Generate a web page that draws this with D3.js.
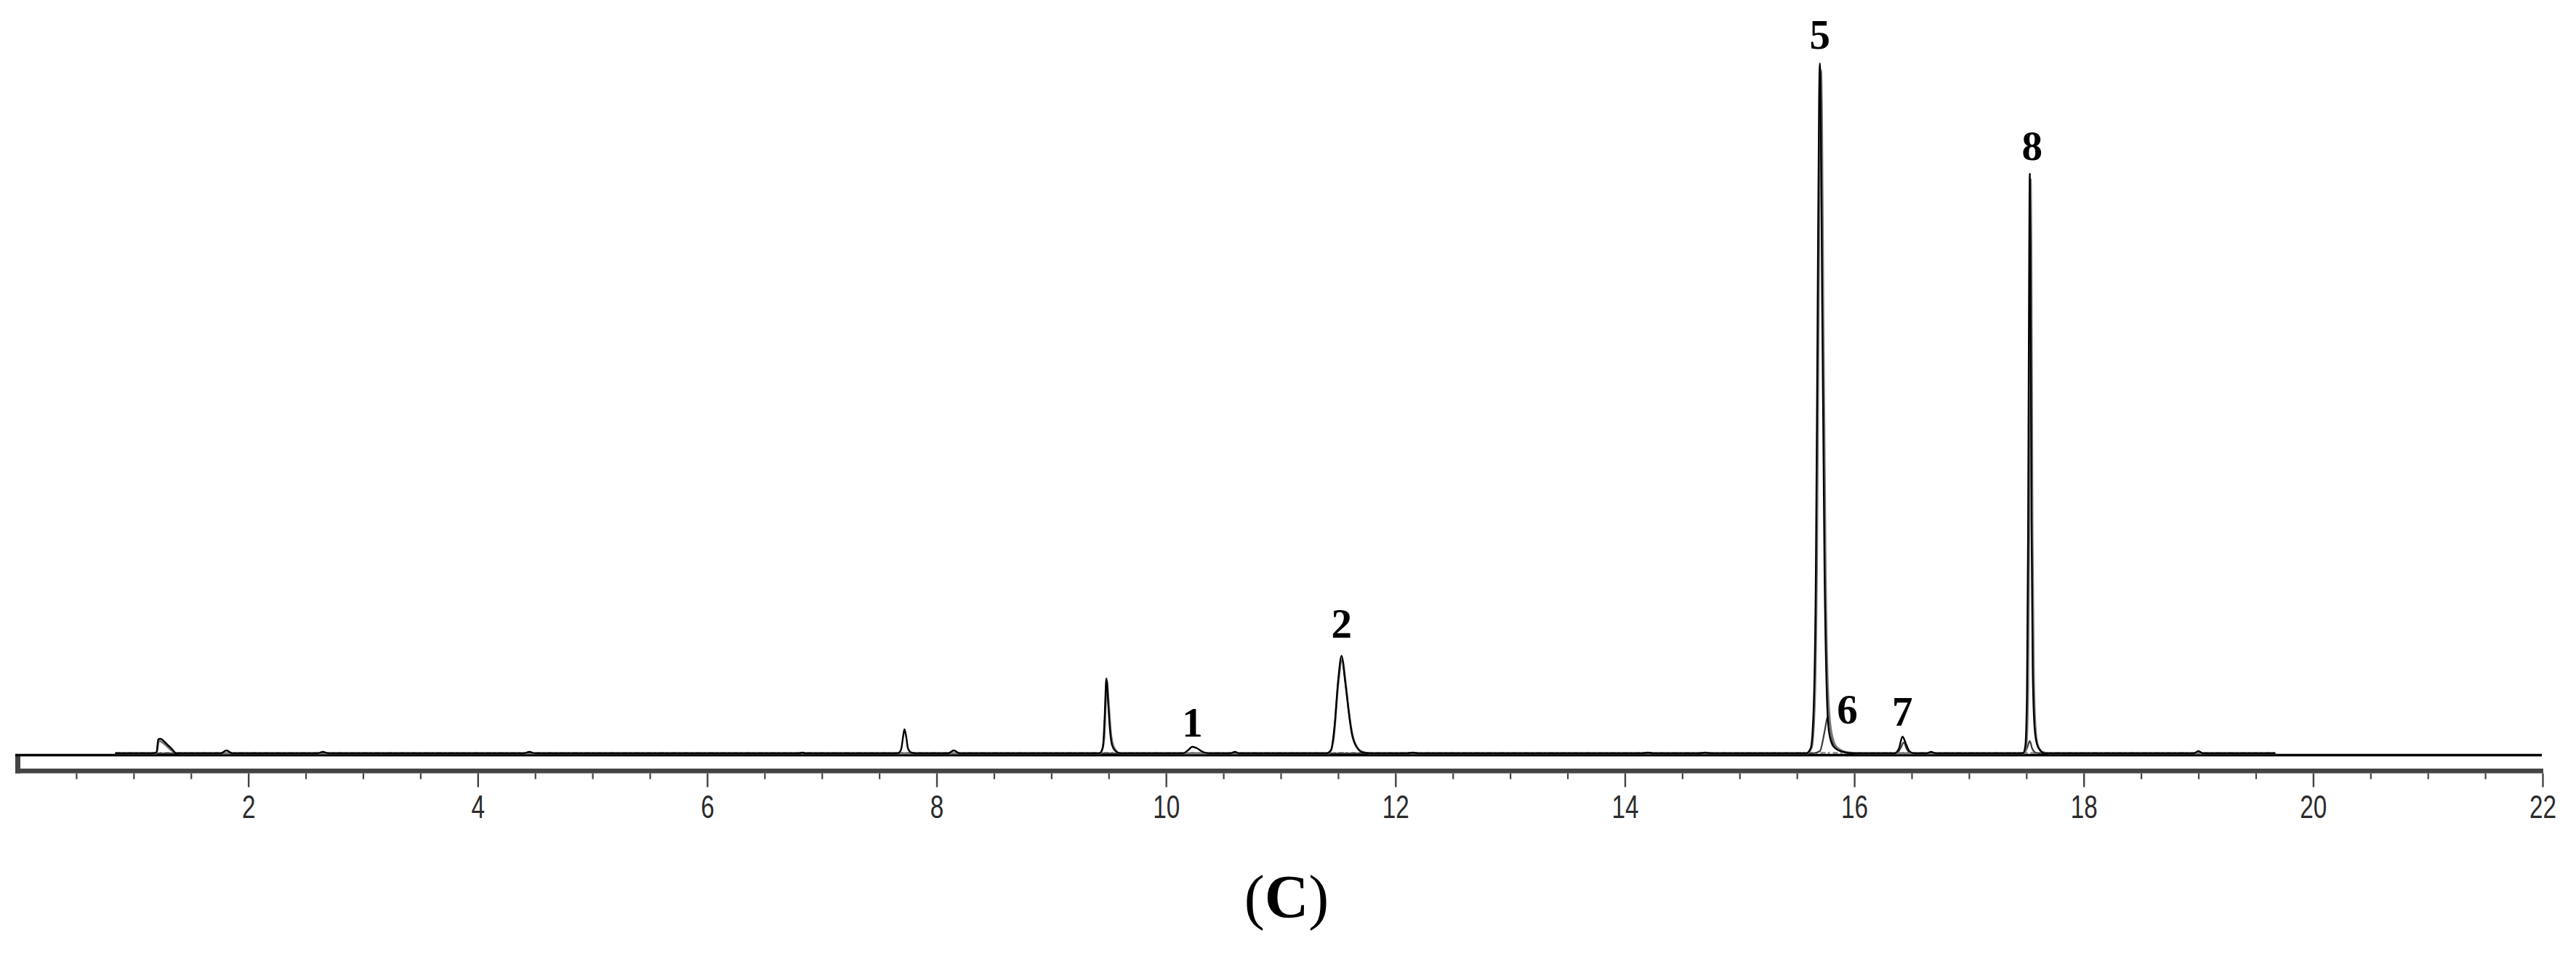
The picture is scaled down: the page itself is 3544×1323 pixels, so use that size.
<!DOCTYPE html>
<html>
<head>
<meta charset="utf-8">
<script src="https://cdn.jsdelivr.net/npm/d3@7"></script>
<style>
  html, body { margin: 0; padding: 0; background: #fff; }
  svg { display: block; }
</style>
</head>
<body>
<script>
// ---------------- DATA ----------------
// retention time (min) vs detector response (arbitrary units)
const traceSample = [
  [0.84,1],[1.15,1],[1.20,2],[1.215,20],[1.23,21],[1.30,12],[1.34,6],[1.37,1],
  [1.76,1],[1.81,5],[1.86,1],[2.60,1],[2.65,3],[2.70,1],[4.40,1],[4.45,3],[4.50,1],
  [6.80,1],[6.83,2],[6.86,1],
  [7.66,1],[7.69,6],[7.71,26],[7.72,34],[7.735,24],[7.75,8],[7.78,2],[7.82,1],
  [8.10,1],[8.15,5],[8.20,1],
  [9.42,1],[9.45,10],[9.465,50],[9.48,104],[9.495,72],[9.51,36],[9.53,12],[9.56,4],[9.60,1],
  [10.15,1],[10.19,5],[10.23,10],[10.27,8],[10.32,3],[10.38,1],
  [10.56,1],[10.60,3],[10.64,1],
  [11.40,1],[11.44,6],[11.47,40],[11.50,100],[11.53,135],[11.56,102],[11.59,62],[11.62,28],[11.66,10],[11.72,2],[11.80,1],
  [12.10,1],[12.15,2],[12.20,1],[14.15,1],[14.20,2],[14.25,1],[14.65,1],[14.70,2],[14.75,1],
  [15.58,1],[15.62,8],[15.645,60],[15.665,250],[15.68,600],[15.693,900],[15.70,950],[15.707,900],[15.72,620],[15.74,260],[15.76,85],[15.78,30],[15.82,10],[15.90,3],[16.00,1],
  [16.35,1],[16.39,8],[16.42,24],[16.45,14],[16.48,4],[16.52,1],
  [16.63,1],[16.67,3],[16.71,1],
  [17.47,1],[17.49,10],[17.505,80],[17.515,300],[17.525,700],[17.53,798],[17.535,700],[17.545,320],[17.555,120],[17.57,40],[17.59,15],[17.62,5],[17.66,1],
  [18.96,1],[19.00,4],[19.04,1],[19.67,1]
];
const traceStandard = [
  [0.84,1],[1.20,1],[1.22,18],[1.36,2],[1.40,1],
  [9.43,1],[9.46,20],[9.485,100],[9.50,70],[9.52,28],[9.55,8],[9.60,1],
  [11.42,1],[11.46,20],[11.50,95],[11.535,130],[11.57,92],[11.60,50],[11.64,18],[11.70,4],[11.78,1],
  [15.59,1],[15.63,10],[15.655,70],[15.675,280],[15.69,640],[15.703,905],[15.71,940],[15.717,890],[15.73,600],[15.75,250],[15.77,90],[15.80,30],[15.85,9],[15.95,2],[16.05,1],
  [17.48,1],[17.50,12],[17.515,90],[17.525,320],[17.534,720],[17.538,790],[17.543,700],[17.553,300],[17.565,110],[17.58,35],[17.60,12],[17.64,3],[17.70,1],
  [19.67,1]
];
const traceBlank = [
  [0.84,1],[15.64,1],[15.70,4],[15.74,30],[15.765,50],[15.775,52],[15.79,36],[15.81,18],[15.84,8],[15.90,3],[16.00,1],
  [16.37,1],[16.41,10],[16.43,16],[16.46,6],[16.50,1],
  [17.48,1],[17.51,10],[17.53,18],[17.55,8],[17.58,2],[17.62,1],
  [19.67,1]
];
const noiseSpan = [[0.84,1.5],[19.67,1.5]];

const peakLabels = ["5", "8", "2", "1", "6", "7"];
const peakLabelTime = [15.70, 17.55, 11.53, 10.23, 15.94, 16.42];
const peakLabelLevel = [970, 817, 160, 24, 42, 39];

const xMajorTicks = [2, 4, 6, 8, 10, 12, 14, 16, 18, 20, 22];
const panelLabel = "C";

// ---------------- LAYOUT ----------------
const W = 3544, H = 1323;
const svg = d3.select("body").append("svg").attr("width", W).attr("height", H);

const x = d3.scaleLinear().domain([0, 22]).range([26, 3498]);
const y = d3.scaleLinear().domain([0, 1000]).range([1037, 37]);

const axisTopY = 1038.5;
const barTop = 1057, barBottom = 1063.5;

// axis frame
svg.append("rect")
  .attr("x", x(0) - 5).attr("y", 1037)
  .attr("width", 7).attr("height", barBottom - 1037)
  .attr("fill", "#444");
svg.append("rect")
  .attr("x", x(0) - 5).attr("y", barTop)
  .attr("width", x(22) + 1 - (x(0) - 5)).attr("height", barBottom - barTop)
  .attr("fill", "#444");

const minorTicks = d3.range(0.5, 22, 0.5).filter(v => !xMajorTicks.includes(v));
const minorAxis = d3.axisBottom(x).tickValues(minorTicks).tickSize(8).tickFormat("");
const majorAxis = d3.axisBottom(x).tickValues(xMajorTicks).tickSize(19).tickPadding(11).tickFormat(d3.format("d"));

const gMinor = svg.append("g").attr("transform", `translate(0,${barBottom})`).call(minorAxis);
gMinor.select(".domain").remove();
gMinor.selectAll(".tick line").attr("stroke", "#444").attr("stroke-width", 2.2);

const gMajor = svg.append("g").attr("transform", `translate(0,${barBottom})`).call(majorAxis);
gMajor.select(".domain").remove();
gMajor.selectAll(".tick line").attr("stroke", "#444").attr("stroke-width", 2.4);
gMajor.selectAll(".tick text")
  .attr("fill", "#2b2b2b")
  .attr("transform", "scale(0.74,1)")
  .style("font-family", "'Liberation Sans', Arial, sans-serif")
  .style("font-size", "45px");

// baseline noise
svg.append("path")
  .attr("d", d3.line().x(d => x(d[0])).y(d => y(d[1]))(noiseSpan))
  .attr("fill", "none").attr("stroke", "#9a9a9a").attr("stroke-width", 3)
  .attr("stroke-dasharray", "7,3,3,4");

// top axis line (plot bottom)
svg.append("line")
  .attr("x1", x(0) - 5).attr("x2", x(22) - 1)
  .attr("y1", axisTopY).attr("y2", axisTopY)
  .attr("stroke", "#000").attr("stroke-width", 3.5);

// traces
const line = d3.line().x(d => x(d[0])).y(d => y(d[1])).curve(d3.curveMonotoneX);
[[traceBlank, "#3a3a3a", 2.2], [traceStandard, "#777", 2.8], [traceSample, "#000", 2.4]].forEach(([data, col, w]) => {
  svg.append("path").attr("d", line(data))
    .attr("fill", "none").attr("stroke", col).attr("stroke-width", w)
    .attr("stroke-linejoin", "round");
});

// peak labels
svg.append("g").selectAll("text").data(peakLabels).join("text")
  .attr("x", (d, i) => x(peakLabelTime[i]))
  .attr("y", (d, i) => y(peakLabelLevel[i]))
  .attr("text-anchor", "middle")
  .style("font-family", "'Liberation Serif', 'Times New Roman', serif")
  .style("font-weight", "bold")
  .style("font-size", "57px")
  .attr("fill", "#000")
  .text(d => d);

// panel label
const pl = svg.append("text")
  .attr("x", 1770).attr("y", 1262)
  .attr("text-anchor", "middle")
  .style("font-family", "'Liberation Serif', 'Times New Roman', serif")
  .style("font-size", "84px")
  .attr("fill", "#000");
pl.append("tspan").text("(");
pl.append("tspan").style("font-weight", "bold").text(panelLabel);
pl.append("tspan").text(")");
</script>
</body>
</html>
